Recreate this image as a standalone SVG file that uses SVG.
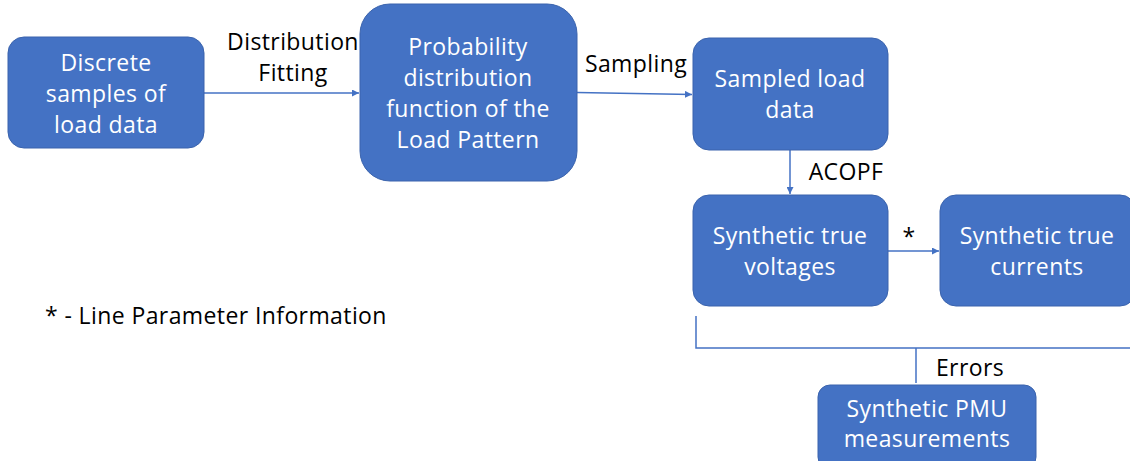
<svg xmlns="http://www.w3.org/2000/svg" width="1130" height="461" viewBox="0 0 1130 461">
<defs>
<style>
.box{fill:#4472C4;stroke:#3A63AD;stroke-width:1}
.t{font-family:"Open Sans","Noto Sans",sans-serif;font-size:23px;letter-spacing:0.4px;fill:#FFFFFF;text-anchor:middle}
.l{font-family:"Open Sans","Noto Sans",sans-serif;font-size:23px;letter-spacing:0.4px;fill:#000000}
.c{fill:none;stroke:#4472C4;stroke-width:1.5}
</style>
<marker id="ah" viewBox="0 0 10 10" refX="10" refY="5" markerWidth="7" markerHeight="7" orient="auto" markerUnits="userSpaceOnUse">
<path d="M0,0 L10,5 L0,10 z" fill="#4472C4"/>
</marker>
</defs>
<rect width="1130" height="461" fill="#FFFFFF"/>
<g id="connectors">
<line class="c" x1="204" y1="93" x2="359" y2="93" marker-end="url(#ah)"/>
<line class="c" x1="577" y1="92.5" x2="692" y2="94.5" marker-end="url(#ah)"/>
<line class="c" x1="790" y1="150" x2="790" y2="194" marker-end="url(#ah)"/>
<line class="c" x1="888" y1="251" x2="939" y2="251" marker-end="url(#ah)"/>
<polyline class="c" points="696,316 696,348 1130,348"/>
<line class="c" x1="916" y1="348" x2="916" y2="383"/>
</g>
<g id="node-discrete">
<rect class="box" x="8" y="37" width="196" height="111" rx="16"/>
<text class="t" x="106" y="71">Discrete</text>
<text class="t" x="106" y="102">samples of</text>
<text class="t" x="106" y="133">load data</text>
</g>
<g id="node-pdf">
<rect class="box" x="360" y="4" width="217" height="177" rx="30"/>
<text class="t" x="468" y="55">Probability</text>
<text class="t" x="468" y="86">distribution</text>
<text class="t" x="468" y="117">function of the</text>
<text class="t" x="468" y="148">Load Pattern</text>
</g>
<g id="node-sampled">
<rect class="box" x="693" y="38" width="195" height="112" rx="16"/>
<text class="t" x="790" y="87">Sampled load</text>
<text class="t" x="790" y="118">data</text>
</g>
<g id="node-voltages">
<rect class="box" x="693" y="195" width="195" height="111" rx="16"/>
<text class="t" x="790" y="244">Synthetic true</text>
<text class="t" x="790" y="275">voltages</text>
</g>
<g id="node-currents">
<rect class="box" x="940" y="195" width="196" height="111" rx="16"/>
<text class="t" x="1037" y="244">Synthetic true</text>
<text class="t" x="1037" y="275">currents</text>
</g>
<g id="node-pmu">
<rect class="box" x="818" y="385" width="218" height="84" rx="12"/>
<text class="t" x="927" y="417">Synthetic PMU</text>
<text class="t" x="927" y="447">measurements</text>
</g>
<g id="labels">
<text class="l" x="293" y="50" text-anchor="middle">Distribution</text>
<text class="l" x="293" y="81" text-anchor="middle">Fitting</text>
<text class="l" x="636" y="72" text-anchor="middle">Sampling</text>
<text class="l" x="846" y="180" text-anchor="middle">ACOPF</text>
<text class="l" x="909" y="245" text-anchor="middle">*</text>
<text class="l" x="970" y="376" text-anchor="middle">Errors</text>
<text class="l" x="45" y="324">* - Line Parameter Information</text>
</g>
</svg>
